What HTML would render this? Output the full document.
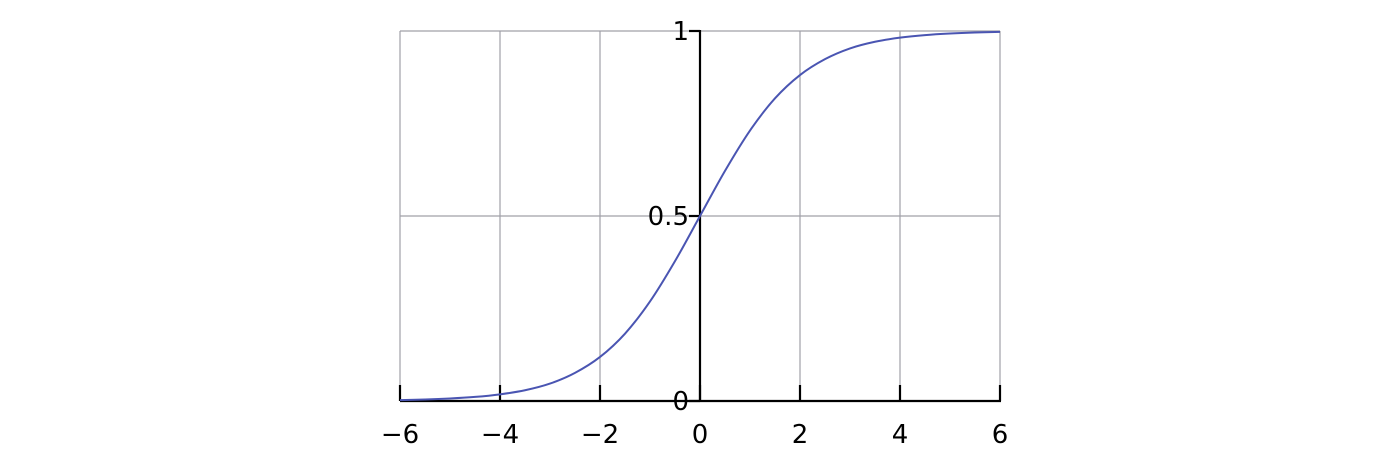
<!DOCTYPE html>
<html><head><meta charset="utf-8"><style>
html,body{margin:0;padding:0;background:#fff}
svg text{font-family:"DejaVu Sans","Liberation Sans",sans-serif;font-size:26px;fill:#000}
</style></head><body>
<svg id="chart" width="1400" height="462" viewBox="0 0 1400 462" xmlns="http://www.w3.org/2000/svg"></svg>
<script>
const xTicks=[-6,-4,-2,0,2,4,6];
const xTickLabels=["\u22126","\u22124","\u22122","0","2","4","6"];
const yTicks=[0,0.5,1];
const yTickLabels=["0","0.5","1"];
const curveX=[-6,-5.5,-5,-4.5,-4,-3.5,-3,-2.5,-2,-1.5,-1,-0.5,0,0.5,1,1.5,2,2.5,3,3.5,4,4.5,5,5.5,6];
const curveY=[0.0025,0.004,0.0067,0.011,0.018,0.029,0.047,0.076,0.119,0.182,0.269,0.378,0.5,0.622,0.731,0.818,0.881,0.924,0.953,0.971,0.982,0.989,0.9933,0.996,0.9975];
const NS="http://www.w3.org/2000/svg";
const svg=document.getElementById('chart');
const sx=v=>700+v*50;
const sy=v=>401-v*370;
function mk(t,a){const e=document.createElementNS(NS,t);for(const k in a)e.setAttribute(k,a[k]);svg.appendChild(e);return e;}
xTicks.forEach(v=>{if(v===0)return;const l=mk('line',{x1:sx(v),x2:sx(v),y1:sy(1),y2:sy(0),stroke:'#a0a0a8','stroke-width':1.2});

});
yTicks.forEach(v=>{if(v===0)return;const l=mk('line',{x1:sx(-6),x2:sx(6),y1:sy(v),y2:sy(v),stroke:'#a0a0a8','stroke-width':1.2});

});
const xa=mk('line',{x1:sx(-6),x2:sx(6)+1,y1:sy(0),y2:sy(0),stroke:'#000','stroke-width':2.2});


const ya=mk('line',{x1:sx(0),x2:sx(0),y1:sy(1)-1,y2:sy(0),stroke:'#000','stroke-width':2.2});


xTicks.forEach((v,i)=>{const t=mk('line',{x1:sx(v),x2:sx(v),y1:sy(0)-16,y2:sy(0),stroke:'#000','stroke-width':2.2});


const tx=mk('text',{x:sx(v),y:443,'text-anchor':'middle'});tx.textContent=xTickLabels[i];

});
yTicks.forEach((v,i)=>{const t=mk('line',{x1:sx(0)-11,x2:sx(0),y1:sy(v),y2:sy(v),stroke:'#000','stroke-width':2.2});


const tx=mk('text',{x:sx(0)-11,y:sy(v)+9,'text-anchor':'end'});tx.textContent=yTickLabels[i];

});
const pts=curveX.map((x,i)=>[sx(x),sy(curveY[i])]);
let d='M'+pts[0][0]+','+pts[0][1];
for(let i=0;i<pts.length-1;i++){const p0=pts[Math.max(0,i-1)],p1=pts[i],p2=pts[i+1],p3=pts[Math.min(pts.length-1,i+2)];
d+=' C'+(p1[0]+(p2[0]-p0[0])/6)+','+(p1[1]+(p2[1]-p0[1])/6)+' '+(p2[0]-(p3[0]-p1[0])/6)+','+(p2[1]-(p3[1]-p1[1])/6)+' '+p2[0]+','+p2[1];}
const c=mk('path',{d:d,fill:'none',stroke:'#4a55b2','stroke-width':2});


</script>
</body></html>
